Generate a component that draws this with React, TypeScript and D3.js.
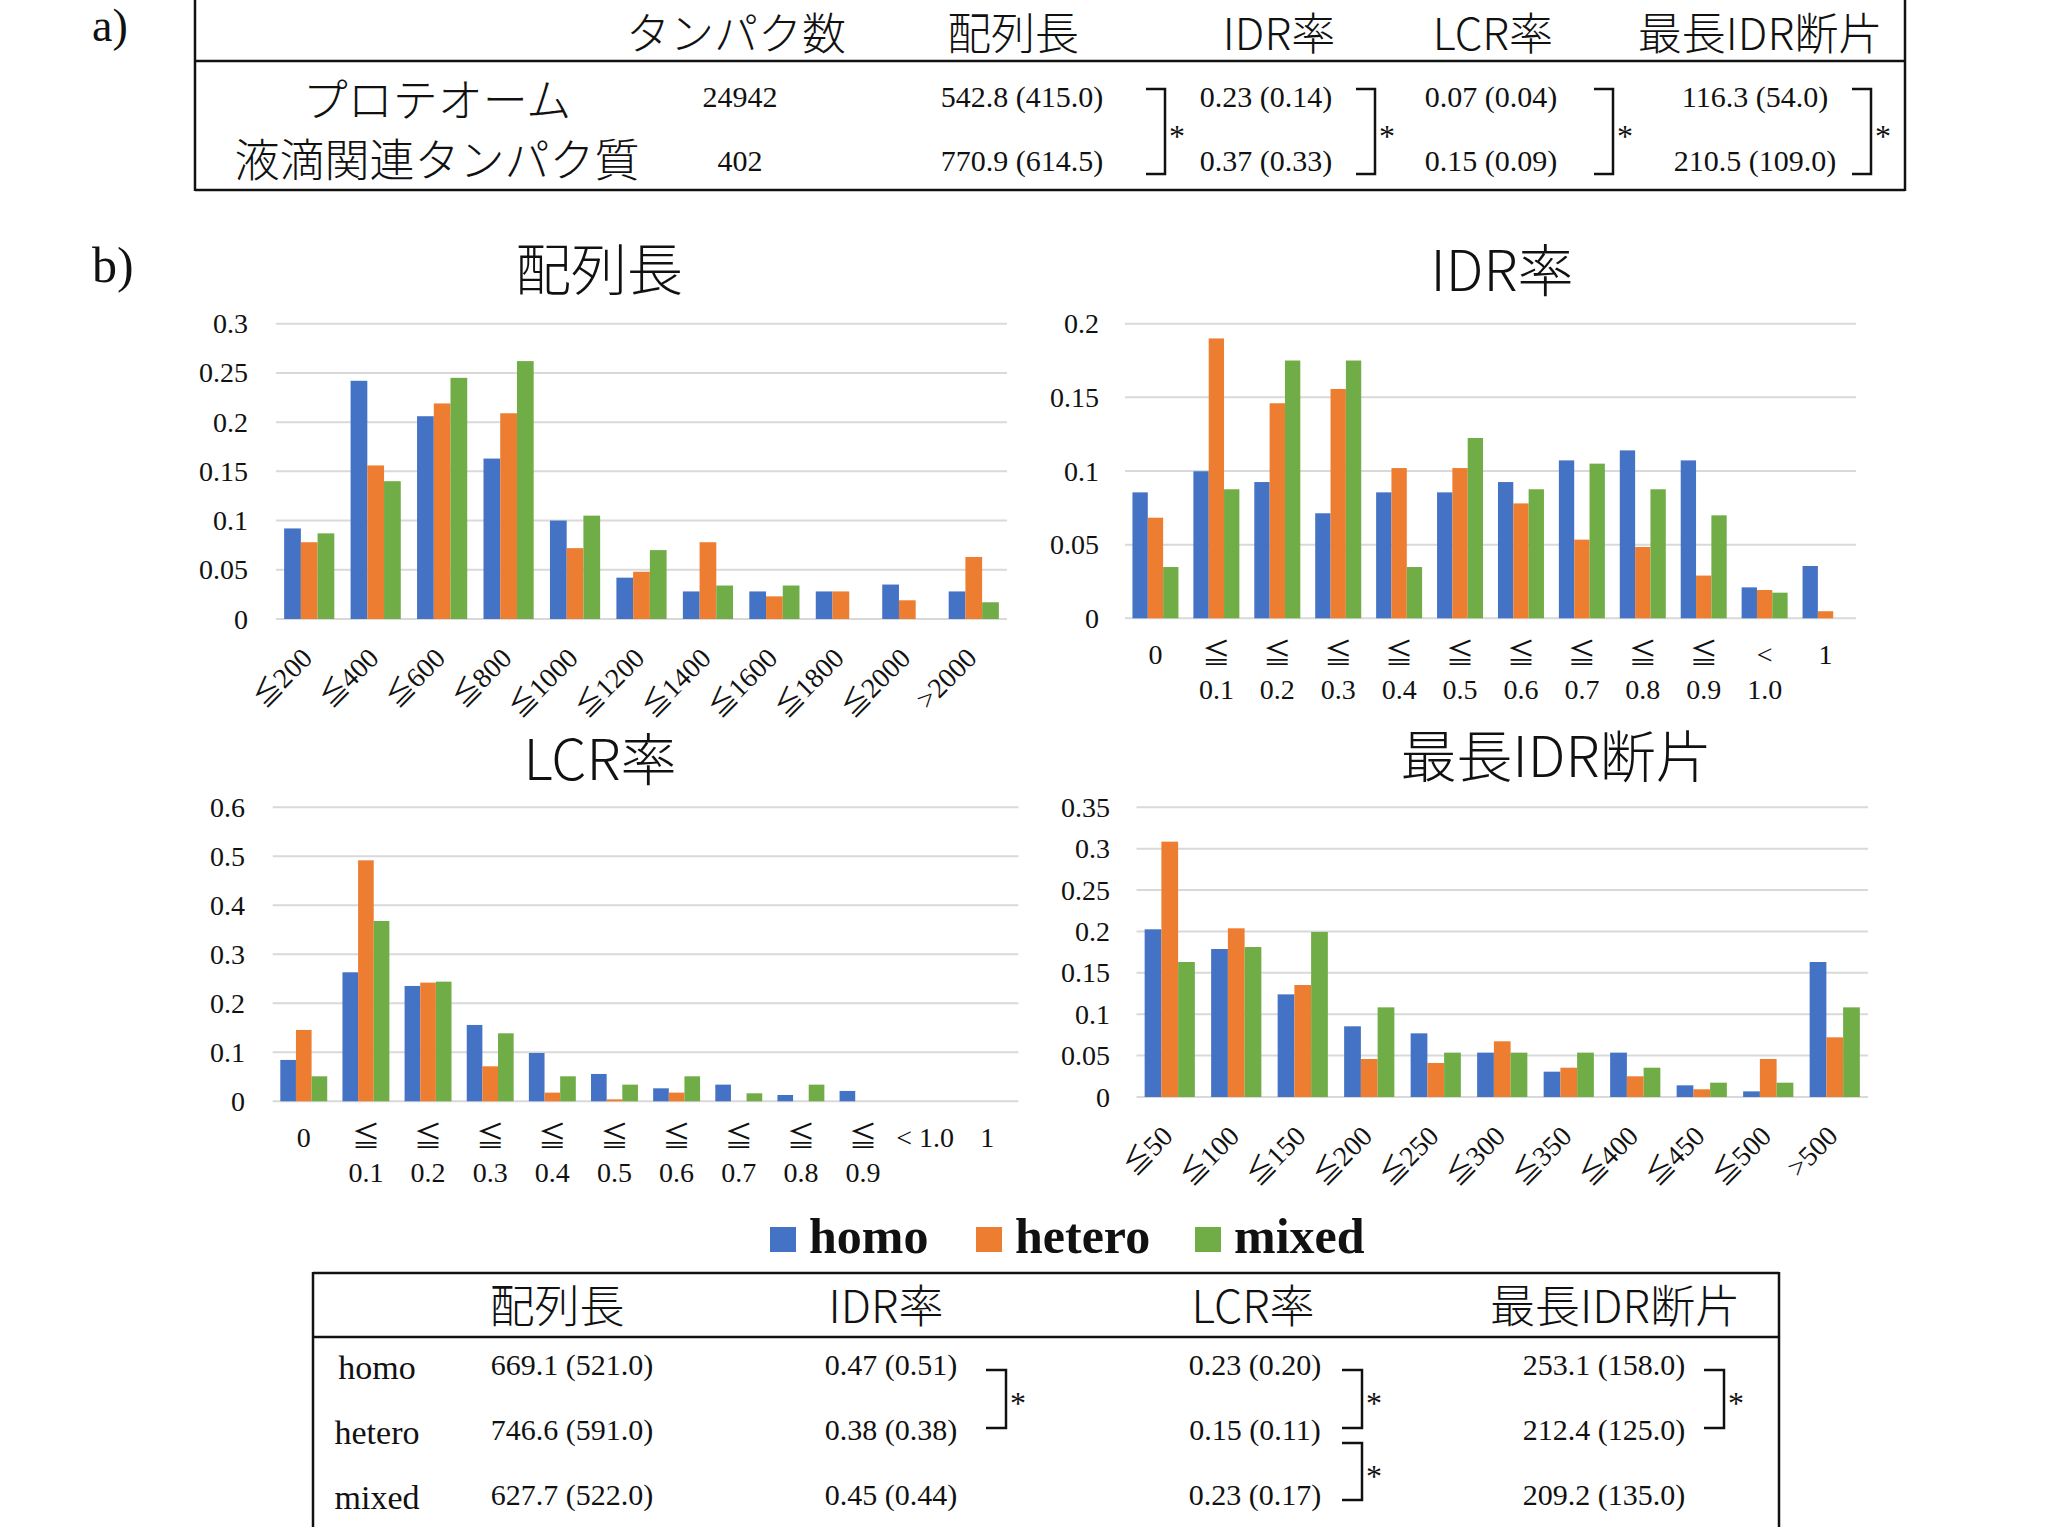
import React, { useEffect } from 'react';
import * as d3 from 'd3';

// ---------- data ----------
const SERIES = ['homo', 'hetero', 'mixed'];
const COLORS = ['#4472C4', '#ED7D31', '#70AD47'];

const lenCats = ['≦200', '≦400', '≦600', '≦800', '≦1000', '≦1200', '≦1400', '≦1600', '≦1800', '≦2000', '>2000'];
const lenHomo = [0.092, 0.242, 0.206, 0.163, 0.1, 0.042, 0.028, 0.028, 0.028, 0.035, 0.028];
const lenHetero = [0.078, 0.156, 0.219, 0.209, 0.072, 0.048, 0.078, 0.023, 0.028, 0.019, 0.063];
const lenMixed = [0.087, 0.14, 0.245, 0.262, 0.105, 0.07, 0.034, 0.034, 0, 0, 0.017];

const idrCats = ['0', '≦\n0.1', '≦\n0.2', '≦\n0.3', '≦\n0.4', '≦\n0.5', '≦\n0.6', '≦\n0.7', '≦\n0.8', '≦\n0.9', '<\n1.0', '1'];
const idrHomo = [0.0855, 0.0998, 0.0925, 0.0713, 0.0855, 0.0855, 0.0925, 0.1072, 0.114, 0.1072, 0.021, 0.0355];
const idrHetero = [0.0683, 0.19, 0.146, 0.1557, 0.102, 0.102, 0.078, 0.0534, 0.0484, 0.029, 0.0192, 0.0048];
const idrMixed = [0.0348, 0.0876, 0.175, 0.175, 0.0348, 0.1224, 0.0876, 0.105, 0.0876, 0.0699, 0.0174, 0];

const lcrCats = ['0', '≦\n0.1', '≦\n0.2', '≦\n0.3', '≦\n0.4', '≦\n0.5', '≦\n0.6', '≦\n0.7', '≦\n0.8', '≦\n0.9', '< 1.0', '1'];
const lcrHomo = [0.0844, 0.2633, 0.2354, 0.1558, 0.0986, 0.0558, 0.0265, 0.034, 0.0129, 0.0211, 0, 0];
const lcrHetero = [0.1456, 0.4918, 0.2422, 0.0714, 0.0177, 0.004, 0.0177, 0, 0, 0, 0, 0];
const lcrMixed = [0.051, 0.368, 0.2442, 0.1388, 0.051, 0.034, 0.051, 0.0163, 0.034, 0, 0, 0];

const segCats = ['≦50', '≦100', '≦150', '≦200', '≦250', '≦300', '≦350', '≦400', '≦450', '≦500', '>500'];
const segHomo = [0.2026, 0.1788, 0.124, 0.0854, 0.0769, 0.0536, 0.0306, 0.0536, 0.0141, 0.0068, 0.1631];
const segHetero = [0.3085, 0.2038, 0.1353, 0.0459, 0.0411, 0.0673, 0.0354, 0.025, 0.0093, 0.0459, 0.0721];
const segMixed = [0.1631, 0.1812, 0.1994, 0.1083, 0.0536, 0.0536, 0.0536, 0.0354, 0.0173, 0.0173, 0.1083];

const topHeaders = ['タンパク数', '配列長', 'IDR率', 'LCR率', '最長IDR断片'];
const topRowLabels = ['プロテオーム', '液滴関連タンパク質'];
const topRow1 = ['24942', '542.8 (415.0)', '0.23 (0.14)', '0.07 (0.04)', '116.3 (54.0)'];
const topRow2 = ['402', '770.9 (614.5)', '0.37 (0.33)', '0.15 (0.09)', '210.5 (109.0)'];

const botHeaders = ['配列長', 'IDR率', 'LCR率', '最長IDR断片'];
const botRowLabels = ['homo', 'hetero', 'mixed'];
const botRow1 = ['669.1 (521.0)', '0.47 (0.51)', '0.23 (0.20)', '253.1 (158.0)'];
const botRow2 = ['746.6 (591.0)', '0.38 (0.38)', '0.15 (0.11)', '212.4 (125.0)'];
const botRow3 = ['627.7 (522.0)', '0.45 (0.44)', '0.23 (0.17)', '209.2 (135.0)'];
// significance brackets: [column, fromRow, toRow]
const botSig = [[1, 0, 1], [2, 0, 1], [2, 1, 2], [3, 0, 1]];

// ---------- styles ----------
const SERIF = "'Liberation Serif', 'Times New Roman', 'Noto Sans CJK JP', serif";
const CJK = "'Noto Sans CJK JP', 'Noto Sans', sans-serif";
const GRID = '#d9d9d9';

type ChartProps = {
  title: string; titleX: number; titleY: number;
  cats: string[]; series: number[][];
  x0: number; x1: number; yZero: number; yTop: number;
  yMax: number; yStep: number; labelRight: number; rotate: boolean;
};

function BarChart(p: ChartProps) {
  const y = d3.scaleLinear().domain([0, p.yMax]).range([p.yZero, p.yTop]);
  const x = d3.scaleBand<string>().domain(p.cats).range([p.x0, p.x1]).paddingInner(0.245).paddingOuter(0.1225);
  const xi = d3.scaleBand<string>().domain(SERIES).range([0, x.bandwidth()]);
  const ticks = d3.range(0, p.yMax + 1e-9, p.yStep);
  const fmt = (v: number) => (v === 0 ? '0' : String(+v.toFixed(2)));
  return (
    <g>
      <text x={p.titleX} y={p.titleY} textAnchor="middle" dominantBaseline="central"
        fontFamily={CJK} fontWeight={300} fontSize={56} fill="#111">{p.title}</text>
      {ticks.map((t, i) => (
        <g key={i}>
          <line x1={p.x0} x2={p.x1} y1={y(t)} y2={y(t)} stroke={GRID} strokeWidth={2} />
          <text x={p.labelRight} y={y(t)} textAnchor="end" dominantBaseline="central"
            fontFamily={SERIF} fontSize={28} fill="#111">{fmt(t)}</text>
        </g>
      ))}
      {p.cats.map((c, ci) => (
        <g key={c}>
          {SERIES.map((s, si) => {
            const v = p.series[si][ci];
            if (!v) return null;
            return <rect key={s} x={(x(c) as number) + (xi(s) as number)} y={y(v)}
              width={xi.bandwidth()} height={y(0) - y(v)} fill={COLORS[si]} />;
          })}
        </g>
      ))}
      {p.cats.map((c) => {
        const cx = (x(c) as number) + x.bandwidth() / 2;
        if (p.rotate) {
          return <text key={c} transform={`translate(${cx - 2},${p.yZero + 34}) rotate(-45)`}
            textAnchor="end" dominantBaseline="central" fontFamily={SERIF} fontSize={28} fill="#111">{c}</text>;
        }
        const lines = c.split('\n');
        return (
          <g key={c}>
            {lines.map((l, li) => (
              <text key={li} x={cx} y={p.yZero + 36 + li * 35} textAnchor="middle" dominantBaseline="central"
                fontFamily={SERIF} fontSize={28} fill="#111">{l}</text>
            ))}
          </g>
        );
      })}
    </g>
  );
}

function Bracket({ x, y1, y2, w }: { x: number; y1: number; y2: number; w: number }) {
  return (
    <g>
      <path d={`M${x - w},${y1} H${x} V${y2} H${x - w}`} fill="none" stroke="#111" strokeWidth={2.5} />
      <text x={x + 12} y={(y1 + y2) / 2 + 15} textAnchor="middle" fontFamily={SERIF} fontSize={32} fill="#111">*</text>
    </g>
  );
}

export default function App() {
  useEffect(() => {
    document.body.style.margin = '0';
  }, []);

  const topHeaderX = [736, 1013, 1279, 1493, 1760];
  const topValX = [740, 1022, 1266, 1491, 1755];
  const topBracketX = [1165, 1375, 1613, 1871];
  const topRowY = [97, 161];
  const topRows = [topRow1, topRow2];

  const botHeaderX = [557, 886, 1253, 1615];
  const botValX = [572, 891, 1255, 1604];
  const botBracketX = [0, 1006, 1362, 1724];
  const botRowY = [1366, 1431, 1496];
  const botRows = [botRow1, botRow2, botRow3];

  return (
    <div style={{ position: 'absolute', left: 0, top: 0 }}>
      <svg width={2054} height={1527} style={{ display: 'block', background: '#fff' }}>
        {/* panel labels */}
        <text x={92} y={41} fontFamily={SERIF} fontSize={46} fill="#111">a)</text>
        <text x={92} y={282} fontFamily={SERIF} fontSize={50} fill="#111">b)</text>

        {/* top table */}
        <g>
          <line x1={195} x2={195} y1={0} y2={191} stroke="#111" strokeWidth={2.5} />
          <line x1={1905} x2={1905} y1={0} y2={191} stroke="#111" strokeWidth={2.5} />
          <line x1={195} x2={1905} y1={61} y2={61} stroke="#111" strokeWidth={2.5} />
          <line x1={195} x2={1905} y1={190} y2={190} stroke="#111" strokeWidth={2.5} />
          {topHeaders.map((h, i) => (
            <text key={h} x={topHeaderX[i]} y={31} textAnchor="middle" dominantBaseline="central"
              fontFamily={CJK} fontWeight={300} fontSize={44} fill="#111">{h}</text>
          ))}
          {topRowLabels.map((r, i) => (
            <text key={r} x={437} y={topRowY[i] - (i === 1 ? 4 : 0)} textAnchor="middle" dominantBaseline="central"
              fontFamily={CJK} fontWeight={300} fontSize={45} fill="#111">{r}</text>
          ))}
          {topRows.map((row, ri) => row.map((v, ci) => (
            <text key={`${ri}-${ci}`} x={topValX[ci]} y={topRowY[ri] + 10} textAnchor="middle"
              fontFamily={SERIF} fontSize={30} fill="#111">{v}</text>
          )))}
          {topBracketX.map((bx, i) => (
            <Bracket key={i} x={bx} y1={89} y2={174} w={19} />
          ))}
        </g>

        <BarChart title="配列長" titleX={599} titleY={265} cats={lenCats} series={[lenHomo, lenHetero, lenMixed]}
          x0={276} x1={1007} yZero={619} yTop={323.7} yMax={0.3} yStep={0.05} labelRight={248} rotate={true} />
        <BarChart title="IDR率" titleX={1502} titleY={266} cats={idrCats} series={[idrHomo, idrHetero, idrMixed]}
          x0={1125} x1={1856} yZero={618.3} yTop={323.7} yMax={0.2} yStep={0.05} labelRight={1099} rotate={false} />
        <BarChart title="LCR率" titleX={600} titleY={755} cats={lcrCats} series={[lcrHomo, lcrHetero, lcrMixed]}
          x0={272.7} x1={1018.4} yZero={1101.3} yTop={807.3} yMax={0.6} yStep={0.1} labelRight={245} rotate={false} />
        <BarChart title="最長IDR断片" titleX={1556} titleY={752} cats={segCats} series={[segHomo, segHetero, segMixed]}
          x0={1136.5} x1={1868} yZero={1097} yTop={807.3} yMax={0.35} yStep={0.05} labelRight={1110} rotate={true} />

        {/* legend */}
        {SERIES.map((s, i) => {
          const lx = [770, 976, 1195][i];
          return (
            <g key={s}>
              <rect x={lx} y={1227} width={26} height={25} fill={COLORS[i]} />
              <text x={lx + 39} y={1253} fontFamily={SERIF} fontWeight="bold" fontSize={50} fill="#111">{s}</text>
            </g>
          );
        })}

        {/* bottom table */}
        <g>
          <line x1={313} x2={313} y1={1272} y2={1527} stroke="#111" strokeWidth={2.5} />
          <line x1={1779} x2={1779} y1={1272} y2={1527} stroke="#111" strokeWidth={2.5} />
          <line x1={313} x2={1779} y1={1273} y2={1273} stroke="#111" strokeWidth={2.5} />
          <line x1={313} x2={1779} y1={1337} y2={1337} stroke="#111" strokeWidth={2.5} />
          {botHeaders.map((h, i) => (
            <text key={h} x={botHeaderX[i]} y={1303} textAnchor="middle" dominantBaseline="central"
              fontFamily={CJK} fontWeight={300} fontSize={45} fill="#111">{h}</text>
          ))}
          {botRowLabels.map((r, i) => (
            <text key={r} x={377} y={botRowY[i] + 13} textAnchor="middle"
              fontFamily={SERIF} fontSize={34} fill="#111">{r}</text>
          ))}
          {botRows.map((row, ri) => row.map((v, ci) => (
            <text key={`${ri}-${ci}`} x={botValX[ci]} y={botRowY[ri] + 9} textAnchor="middle"
              fontFamily={SERIF} fontSize={30} fill="#111">{v}</text>
          )))}
          {botSig.map(([c, a, b], i) => (
            <Bracket key={i} x={botBracketX[c]} y1={botRowY[a] + (a === 0 ? 4 : 12)} y2={botRowY[b] - 3 + (b === 2 ? 7 : 0)} w={20} />
          ))}
        </g>
      </svg>
    </div>
  );
}
